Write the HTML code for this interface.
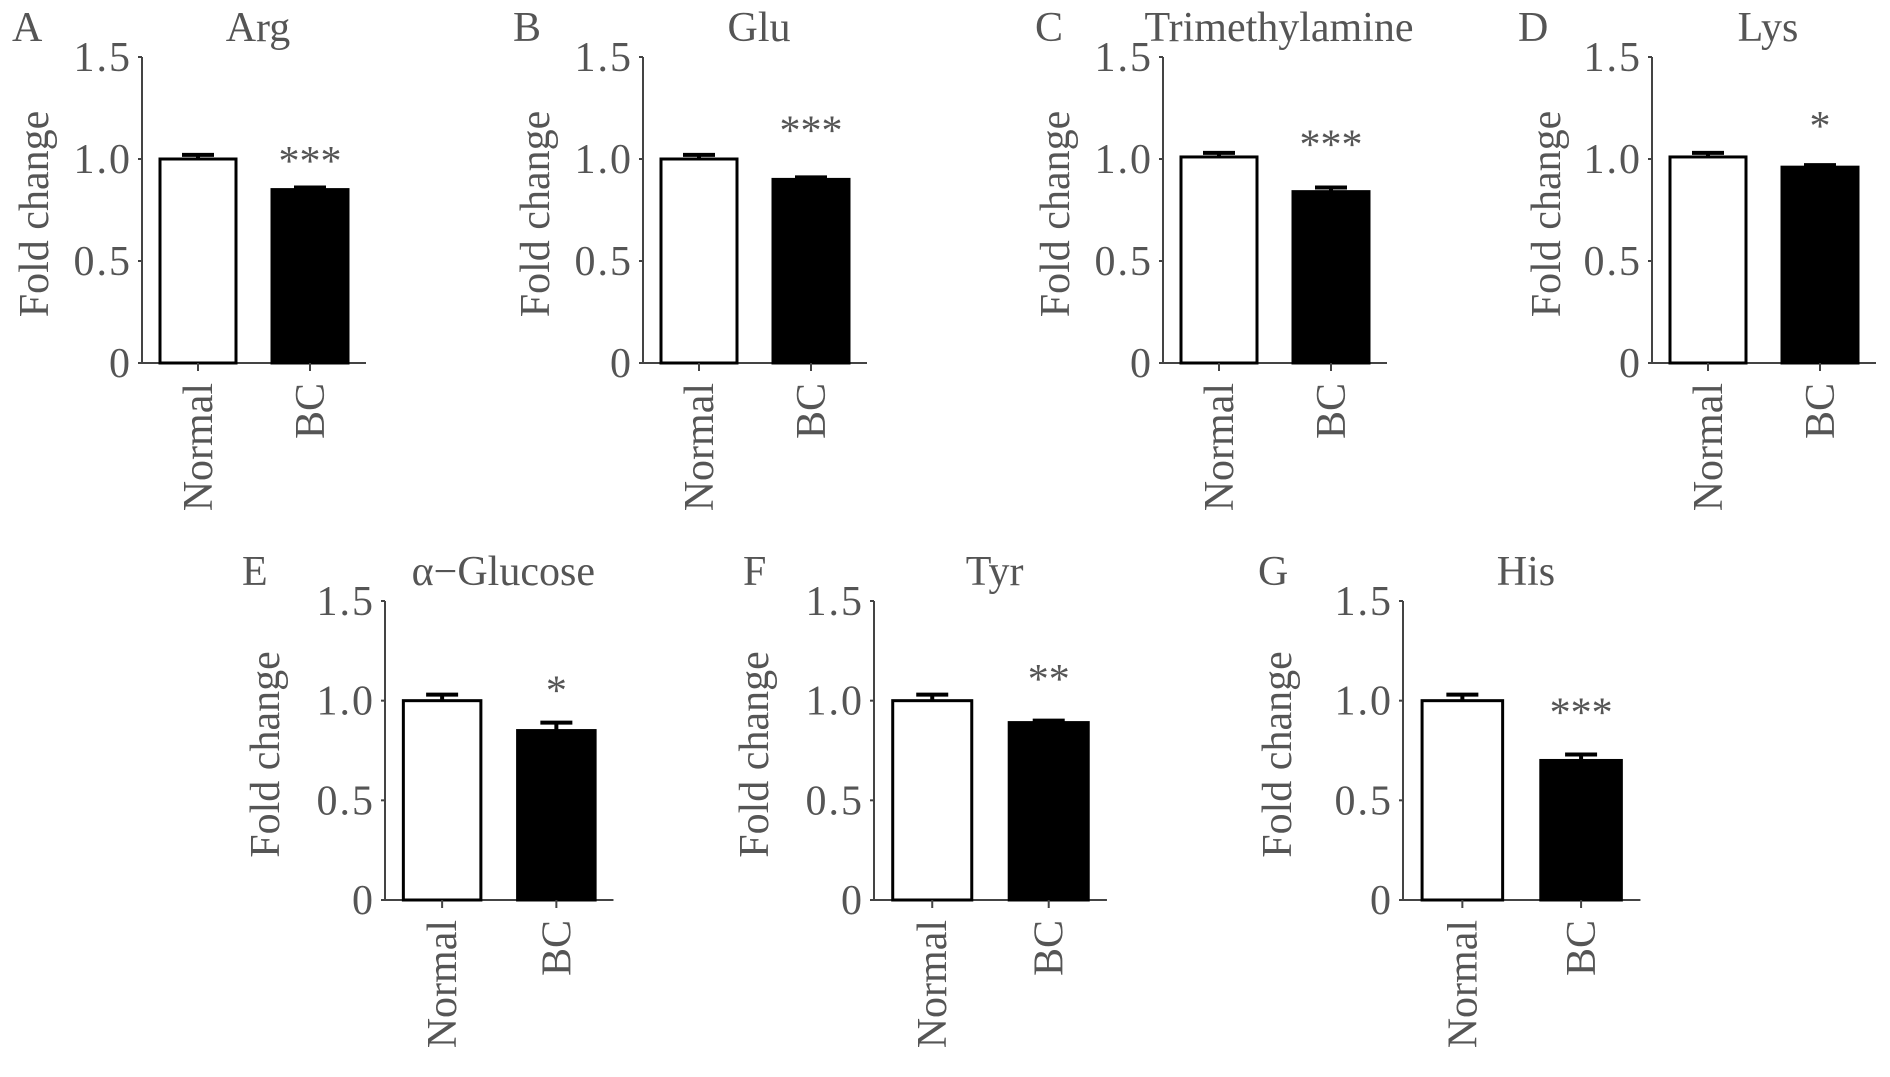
<!DOCTYPE html>
<html><head><meta charset="utf-8"><style>
html,body{margin:0;padding:0;background:#fff}
svg{display:block}
text{font-family:"Liberation Serif",serif;fill:#555}
</style></head><body>
<svg id="fig" width="1890" height="1077" viewBox="0 0 1890 1077" xmlns="http://www.w3.org/2000/svg"></svg>
<script>
const panelLetters = ["A","B","C","D","E","F","G"];
const panelTitles = ["Arg","Glu","Trimethylamine","Lys","\u03B1\u2212Glucose","Tyr","His"];
const categories = ["Normal","BC"];
const normalValues = [1.00,1.00,1.01,1.01,1.00,1.00,1.00];
const normalErrors = [0.02,0.02,0.02,0.02,0.03,0.03,0.03];
const bcValues = [0.85,0.90,0.84,0.96,0.85,0.89,0.70];
const bcErrors = [0.01,0.01,0.02,0.01,0.04,0.01,0.03];
const sigLabels = ["***","***","***","*","*","**","***"];
const sigLevels = [1.03,1.18,1.11,1.20,1.09,1.15,0.98];
const yTicks = [0,0.5,1.0,1.5];
const yTickLabels = ["0","0.5","1.0","1.5"];

const layout = [
 {ax:142,top:57,bot:363,lx:12,ylx:-108,s:1},
 {ax:643,top:57,bot:363,lx:513,ylx:-108,s:1},
 {ax:1163,top:57,bot:363,lx:1035,ylx:-108,s:1},
 {ax:1652,top:57,bot:363,lx:1518,ylx:-106,s:1},
 {ax:385,top:601,bot:900,lx:242,ylx:-120,s:1.02},
 {ax:874,top:601,bot:900,lx:743,ylx:-120,s:1.04},
 {ax:1403,top:601,bot:900,lx:1258,ylx:-126,s:1.06}
];
const NS="http://www.w3.org/2000/svg";
const svg=document.getElementById('fig');
function mk(tag,attrs,parent){const e=document.createElementNS(NS,tag);for(const k in attrs)e.setAttribute(k,attrs[k]);(parent||svg).appendChild(e);return e;}
const FS=42;
panelLetters.forEach((L,i)=>{
  const p=layout[i], s=p.s;
  const y=v=>p.bot-(v/1.5)*(p.bot-p.top);
  const g=mk('g',{});
  
  
  const lt=mk('text',{x:p.lx,y:p.top-16,'font-size':FS},g);lt.textContent=L;
  
  
  const tt=mk('text',{x:p.ax+116*s,y:p.top-16,'font-size':FS,'text-anchor':'middle'},g);tt.textContent=panelTitles[i];
  
  
  const ya=mk('line',{x1:p.ax,y1:p.top,x2:p.ax,y2:p.bot,stroke:'#444','stroke-width':2},g);
  
  
  const xa=mk('line',{x1:p.ax-4,y1:p.bot,x2:p.ax+224*s,y2:p.bot,stroke:'#444','stroke-width':2},g);
  
  
  yTicks.forEach((t,k)=>{
    mk('line',{x1:p.ax-4,y1:y(t),x2:p.ax,y2:y(t),stroke:'#444','stroke-width':2},g);
    const tl=mk('text',{x:p.ax-10,y:y(t)+14,'font-size':FS,'text-anchor':'end','letter-spacing':2},g);tl.textContent=yTickLabels[k];
    
    
  });
  const yl=mk('text',{x:0,y:0,'font-size':FS,'text-anchor':'middle',transform:`translate(${p.ax+p.ylx+14},${(p.top+p.bot)/2+4}) rotate(-90)`},g);
  yl.textContent='Fold change';
  
  
  const vals=[normalValues[i],bcValues[i]], errs=[normalErrors[i],bcErrors[i]];
  vals.forEach((v,j)=>{
    const x0=p.ax+(18+j*112)*s, w=76*s, cx=x0+w/2;
    const eb=mk('path',{d:`M${cx} ${y(v)} V${y(v+errs[j])} M${cx-16} ${y(v+errs[j])} H${cx+16}`,stroke:'#000','stroke-width':4,fill:'none'},g);
    
    
    const b=mk('rect',{x:x0,y:y(v),width:w,height:p.bot-y(v),fill:j?'#000':'#fff',stroke:'#000','stroke-width':3},g);
    
    
    mk('line',{x1:cx,y1:p.bot,x2:cx,y2:p.bot+8,stroke:'#444','stroke-width':2},g);
    const cl=mk('text',{x:0,y:0,'font-size':FS,'text-anchor':'end',transform:`translate(${cx+14},${p.bot+20}) rotate(-90)`},g);
    cl.textContent=categories[j];
    
    
  });
  const st=mk('text',{x:p.ax+(18+112+38)*s,y:y(sigLevels[i])+22,'font-size':FS,'text-anchor':'middle'},g);
  st.textContent=sigLabels[i];
  
  
});
</script>
</body></html>
